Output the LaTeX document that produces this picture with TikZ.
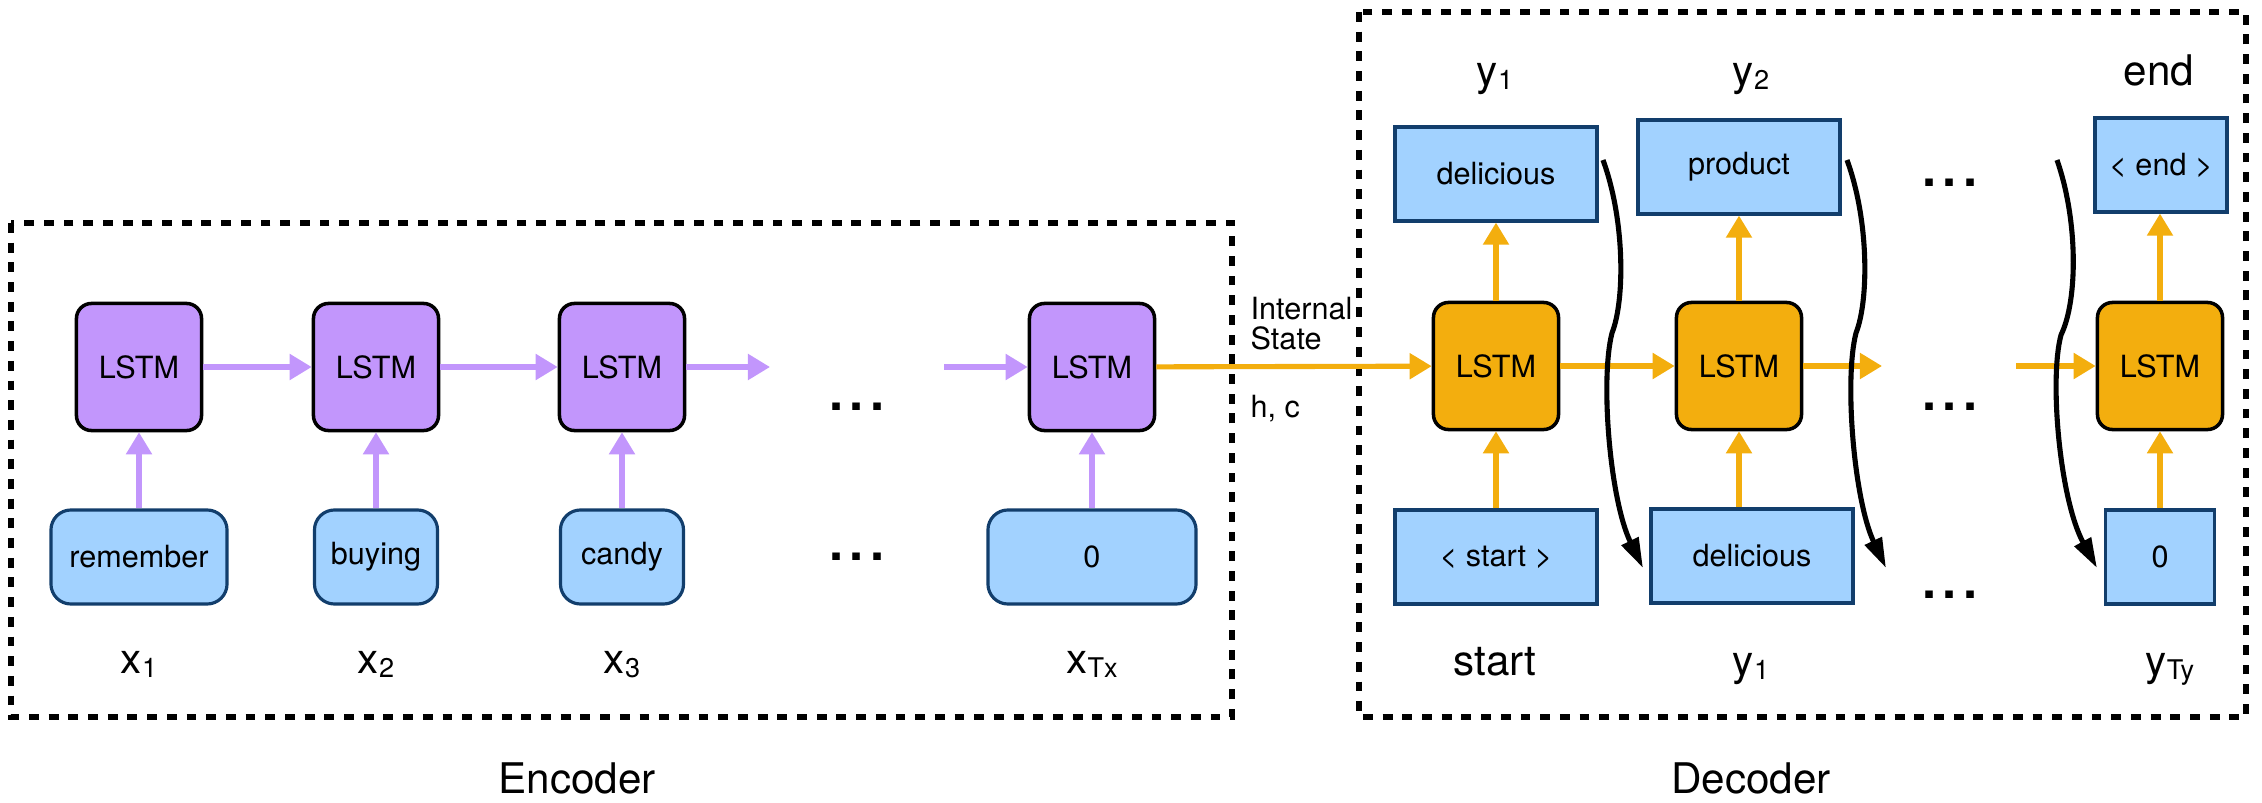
\documentclass[tikz,border=0pt]{standalone}
\usepackage{fontspec}
\setmainfont{TeX Gyre Heros}
\usepackage{xcolor}
\usepackage{tikz}
\usetikzlibrary{arrows.meta}

\definecolor{lstmpurple}{RGB}{194,150,252}
\definecolor{lstmorange}{RGB}{243,174,14}
\definecolor{wordblue}{RGB}{162,210,255}
\definecolor{worddark}{RGB}{18,62,108}
\newcommand{\lbl}[2]{#1\raisebox{-1.2pt}{\fontsize{7.7}{8}\selectfont #2}}

\begin{document}
\begin{tikzpicture}[x=0.01cm,y=-0.01cm,
    cell/.style={draw=black,line width=1pt,rounded corners=0.15cm,minimum width=1.25cm,minimum height=1.27cm,inner sep=0pt,font=\fontsize{8.7}{10}\selectfont},
    enccell/.style={cell,fill=lstmpurple},
    deccell/.style={cell,fill=lstmorange},
    word/.style={draw=worddark,fill=wordblue,line width=0.9pt,minimum height=0.94cm,inner sep=0pt,font=\fontsize{8.7}{10}\selectfont},
    encword/.style={word,rounded corners=0.2cm},
    tag/.style={anchor=base,inner sep=0pt,font=\fontsize{12}{14}\selectfont},
    gap/.style={inner sep=0pt,font=\fontsize{20.5}{22}\selectfont},
    encflow/.style={draw=lstmpurple,line width=1.45pt,-{Triangle[length=0.22cm,width=0.25cm]}},
    decflow/.style={draw=lstmorange,line width=1.45pt,-{Triangle[length=0.22cm,width=0.25cm]}},
    feed/.style={draw=black,line width=1.45pt,-{Triangle[length=0.3cm,width=0.18cm]}},
    frame/.style={draw=black,line width=1.8pt,dash pattern=on 2.8pt off 2.8pt}]
    \useasboundingbox (0,0) rectangle (2262,803);

    % encoder
    \draw[frame] (11,223) rectangle (1232,717);
    \node[enccell] (e1) at (139,367) {LSTM};
    \node[enccell] (e2) at (376,367) {LSTM};
    \node[enccell] (e3) at (622,367) {LSTM};
    \node[enccell] (e4) at (1092,367) {LSTM};
    \node[encword,minimum width=1.76cm] (w1) at (139,557) {remember};
    \node[encword,minimum width=1.23cm] (w2) at (376,557) {buying};
    \node[encword,minimum width=1.23cm] (w3) at (622,557) {candy};
    \node[encword,minimum width=2.08cm] (w4) at (1092,557) {0};
    \node[tag] (x1) at (139,673) {\lbl{x}{1}};
    \node[tag] (x2) at (376,673) {\lbl{x}{2}};
    \node[tag] (x3) at (622,673) {\lbl{x}{3}};
    \node[tag] (xT) at (1092,673) {\lbl{x}{Tx}};
    \node[gap] (edots1) at (857,407) {...};
    \node[gap] (edots2) at (857,557) {...};
    \coordinate (e3out) at (770,367);
    \coordinate (e4in) at (944,367);
    \draw[encflow] (e1) -- (e2);
    \draw[encflow] (e2) -- (e3);
    \draw[encflow] (e3) -- (e3out);
    \draw[encflow] (e4in) -- (e4);
    \draw[encflow] (w1) -- (e1);
    \draw[encflow] (w2) -- (e2);
    \draw[encflow] (w3) -- (e3);
    \draw[encflow] (w4) -- (e4);
    \node[tag] (enc) at (577,793) {Encoder};

    % state handed over
    \node[anchor=north west,inner sep=0pt,align=left,font=\fontsize{8.7}{8.8}\selectfont] (state) at (1250,296) {Internal\\State};
    \node[anchor=base west,inner sep=0pt,font=\fontsize{8.7}{10}\selectfont] (hc) at (1250,417) {h, c};

    % decoder
    \draw[frame] (1359,12) rectangle (2246,717);
    \node[deccell] (d1) at (1496,366) {LSTM};
    \node[deccell] (d2) at (1739,366) {LSTM};
    \node[deccell] (d3) at (2160,366) {LSTM};
    \node[word,minimum width=2.02cm] (o1) at (1496,174) {delicious};
    \node[word,minimum width=2.02cm] (o2) at (1739,167) {product};
    \node[word,minimum width=1.32cm] (o3) at (2161,165) {< end >};
    \node[word,minimum width=2.02cm] (i1) at (1496,557) {< start >};
    \node[word,minimum width=2.02cm] (i2) at (1752,556) {delicious};
    \node[word,minimum width=1.09cm] (i3) at (2160,557) {0};
    \node[tag] (y1) at (1495,85) {\lbl{y}{1}};
    \node[tag] (y2) at (1751,85) {\lbl{y}{2}};
    \node[tag] (yend) at (2159,85) {end};
    \node[tag] (ystart) at (1495,675) {start};
    \node[tag] (y1in) at (1751,675) {\lbl{y}{1}};
    \node[tag] (yT) at (2170,675) {\lbl{y}{Ty}};
    \node[gap] (ddots1) at (1950,183) {...};
    \node[gap] (ddots2) at (1950,407) {...};
    \node[gap] (ddots3) at (1950,595) {...};
    \coordinate (d2out) at (1882,366);
    \coordinate (d3in) at (2016,366);
    \draw[decflow] (e4) -- (d1);
    \draw[decflow] (d1) -- (d2);
    \draw[decflow] (d2) -- (d2out);
    \draw[decflow] (d3in) -- (d3);
    \draw[decflow] (i1) -- (d1);
    \draw[decflow] (i2.north -| d2) -- (d2);
    \draw[decflow] (i3) -- (d3);
    \draw[decflow] (d1) -- (o1);
    \draw[decflow] (d2) -- (o2);
    \draw[decflow] (d3) -- (o3.south -| d3);
    \coordinate (f1a) at (1603,160);
    \coordinate (f1b) at (1612,333);
    \coordinate (f1c) at (1643,568);
    \coordinate (f2a) at (1847,160);
    \coordinate (f2b) at (1856,333);
    \coordinate (f2c) at (1886,568);
    \coordinate (f3a) at (2057,160);
    \coordinate (f3b) at (2061,335);
    \coordinate (f3c) at (2097,568);
    \draw[feed] (f1a) .. controls (1625,220) and (1625,300) .. (f1b) .. controls (1600,380) and (1610,500) .. (f1c);
    \draw[feed] (f2a) .. controls (1869,220) and (1869,300) .. (f2b) .. controls (1844,380) and (1854,500) .. (f2c);
    \draw[feed] (f3a) .. controls (2078,220) and (2078,300) .. (f3b) .. controls (2049,380) and (2060,500) .. (f3c);
    \node[tag] (dec) at (1751,793) {Decoder};
\end{tikzpicture}
\end{document}
